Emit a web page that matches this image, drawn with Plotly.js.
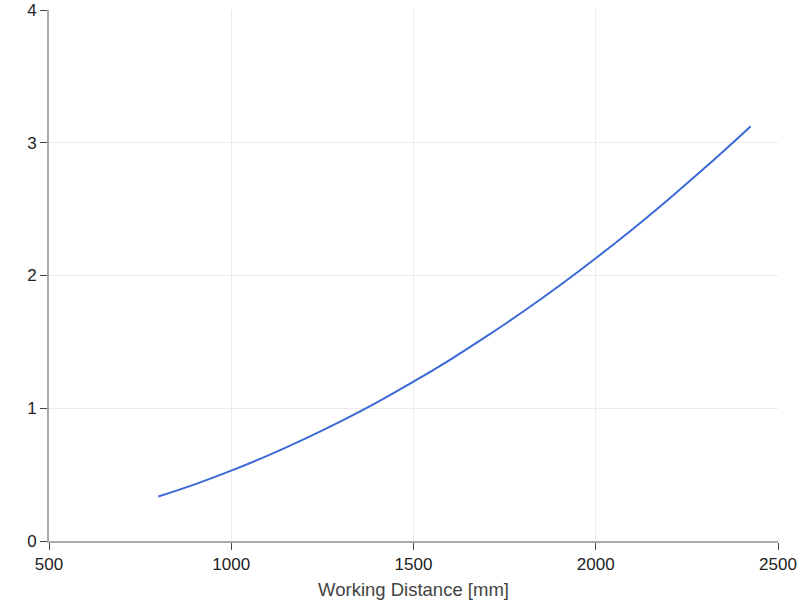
<!DOCTYPE html>
<html><head><meta charset="utf-8">
<script src="https://cdn.plot.ly/plotly-3.0.1.min.js"></script>
<style>html,body{margin:0;padding:0;background:#fff}#chart{width:800px;height:602px}</style>
</head><body><div id="chart"></div>
<script>
const workingDistance = [800, 900, 1000, 1100, 1200, 1300, 1400, 1500, 1600, 1700, 1800, 1900, 2000, 2100, 2200, 2300, 2400, 2425];
const values = [0.335, 0.427, 0.53, 0.643, 0.767, 0.901, 1.045, 1.20, 1.365, 1.541, 1.727, 1.923, 2.13, 2.347, 2.575, 2.813, 3.061, 3.125];
const xTicks = [500, 1000, 1500, 2000, 2500];
const yTicks = [0, 1, 2, 3, 4];
const xTitle = 'Working Distance [mm]';

Plotly.newPlot('chart', [{
  x: workingDistance, y: values, type: 'scatter', mode: 'lines',
  line: {color: 'rgb(59,105,214)', width: 2, shape: 'spline'},
  hoverinfo: 'none'
}], {
  width: 800, height: 602,
  margin: {l: 49, r: 22, t: 10, b: 61},
  paper_bgcolor: '#fff', plot_bgcolor: '#fff',
  showlegend: false,
  font: {family: 'Liberation Sans, Arial, sans-serif', size: 17, color: '#222'},
  xaxis: {
    range: [500, 2500], tickvals: xTicks, ticktext: xTicks.map(String),
    showgrid: true, gridcolor: '#ebebeb', gridwidth: 1,
    showline: true, linecolor: '#aaa', linewidth: 2,
    ticks: 'outside', ticklen: 7, tickcolor: '#444', tickwidth: 1,
    zeroline: false,
    title: {text: xTitle, font: {size: 18.5, color: '#444'}, standoff: 10}
  },
  yaxis: {
    range: [0, 4], tickvals: yTicks, ticktext: yTicks.map(String),
    showgrid: true, gridcolor: '#ebebeb', gridwidth: 1,
    showline: true, linecolor: '#aaa', linewidth: 2,
    ticks: 'outside', ticklen: 7, tickcolor: '#444', tickwidth: 1,
    zeroline: false
  }
}, {displayModeBar: false, staticPlot: true});
</script></body></html>
